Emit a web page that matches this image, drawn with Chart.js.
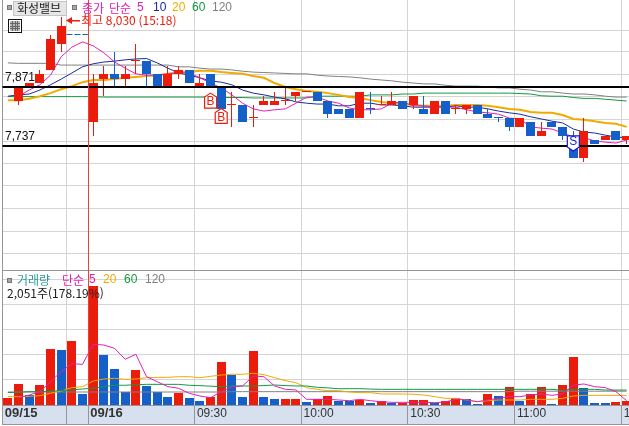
<!DOCTYPE html>
<html lang="ko">
<head>
<meta charset="utf-8">
<title>화성밸브</title>
<script src="https://cdn.jsdelivr.net/npm/chart.js@4"></script>
<style>
html,body{margin:0;padding:0;background:#fff;width:629px;height:426px;overflow:hidden}
canvas{position:absolute;left:0}
#priceCanvas{top:0}
#volumeCanvas{top:270px}
</style>
</head>
<body>
<canvas id="priceCanvas" width="640" height="270"></canvas>
<canvas id="volumeCanvas" width="640" height="156"></canvas>
<script>
// Three-minute candles, one slot per bar. null means no trade printed in that slot.
const open  = [null,7840,7870,7880,7910,7970,null,null,7790,7890,7900,7890,7930,7930,7900,7870,7900,7910,7870,7900,7870,7830,7830,7800,7830,7830,7840,7850,7860,7860,7840,7820,7820,7800,7820,7830,7830,7840,7830,7820,7810,7840,7820,7820,7830,7810,7800,7800,7780,7790,7760,7790,7780,7740,7710,7750,7750,7770,7750];
const close = [null,7870,7880,7900,7980,8010,null,null,7880,7900,7890,7900,7930,7900,7870,7900,7910,7880,7880,7870,7820,7830,7790,7800,7840,7840,7840,7860,7860,7840,7810,7810,7800,7860,7820,7830,7840,7820,7850,7810,7840,7810,7820,7830,7810,7800,7800,7780,7800,7760,7770,7780,7760,7710,7770,7740,7760,7750,7760];
const high  = [null,7870,7880,7910,7990,8030,null,null,7900,7920,7950,7920,7970,7930,7900,7920,7920,7910,7900,7900,7870,7860,7830,7830,7850,7860,7870,7860,7860,7860,7840,7820,7820,7860,7860,7850,7860,7840,7850,7850,7840,7840,7830,7830,7830,7820,7800,7800,7800,7790,7790,7790,7780,7770,7800,7750,7760,7770,7760];
const low   = [null,7830,7870,7880,7910,7950,null,null,7760,7850,7870,7870,7900,7870,7870,7870,7890,7880,7870,7870,7820,7780,7790,7780,7830,7830,7830,7840,7860,7840,7800,7810,7800,7800,7810,7830,7830,7820,7820,7810,7810,7810,7810,7810,7810,7800,7790,7770,7780,7760,7760,7780,7750,7710,7700,7740,7750,7750,7740];
const candleSide = ['','R','R','R','R','R','','','R','R','B','R','R','B','B','R','R','B','R','B','B','R','B','R','R','R','R','R','R','B','B','B','B','R','B','R','R','B','R','B','R','B','R','R','B','B','B','B','R','B','R','B','B','B','R','B','R','B','R'];

// Price moving averages
const priceMa5   = [null,7850,7864,7876,7898,7940,7962,7974,7965,7949,7928,7914,7901,7898,7898,7901,7903,7903,7892,7880,7869,7853,7834,7821,7816,7819,7821,7834,7848,7848,7839,7834,7823,7819,7819,7821,7834,7837,7828,7828,7825,7825,7825,7819,7814,7812,7809,7800,7798,7780,7777,7775,7766,7757,7755,7748,7745,7743,7750];
const priceMa10  = [7850,7853,7855,7864,7876,7889,7903,7917,7924,7928,7930,7933,7935,7936,7926,7914,7903,7898,7892,7885,7882,7876,7864,7857,7853,7848,7844,7837,7834,7832,7832,7828,7828,7834,7834,7830,7830,7828,7825,7825,7825,7825,7828,7825,7825,7821,7816,7812,7809,7803,7798,7793,7789,7775,7768,7766,7761,7757,7755];
const priceMa20  = [7841,7841,7844,7850,7857,7866,7873,7882,7887,7887,7889,7892,7894,7896,7898,7901,7905,7905,7908,7908,7905,7903,7901,7896,7892,7880,7871,7866,7862,7860,7857,7853,7848,7846,7841,7837,7834,7832,7830,7828,7828,7828,7830,7830,7830,7828,7825,7821,7819,7814,7812,7812,7807,7798,7796,7793,7789,7787,7780];
const priceMa60  = [7849,7849,7849,7849,7849,7849,7849,7849,7849,7848,7848,7848,7848,7848,7848,7848,7848,7848,7848,7848,7847,7847,7847,7846,7846,7846,7846,7846,7846,7850,7850,7850,7850,7850,7853,7853,7853,7855,7855,7857,7857,7857,7857,7857,7857,7857,7857,7857,7856,7855,7851,7850,7850,7847,7845,7845,7843,7841,7839];
const priceMa120 = [7926,7925,7925,7925,7925,7921,7921,7921,7921,7921,7921,7921,7921,7921,7921,7921,7917,7917,7914,7912,7912,7910,7907,7905,7904,7903,7902,7901,7901,7898,7896,7895,7894,7892,7889,7887,7885,7882,7880,7878,7878,7875,7873,7873,7873,7871,7869,7869,7866,7864,7860,7860,7857,7855,7855,7853,7850,7848,7848];

// Horizontal support levels, the opening dash and the price grid
const levelValues = [7871,7737];
const levelLabels = ['7,871','7,737'];
const dashPrice  = [null,null,null,null,null,null,7991,7991];
const priceGrid  = [8001,7951,7900,7849,7797,7747,7696,7645,7594,7542,7491];

// Buy and sell flags
const buyIndex  = [19,20];
const buyPrice  = [7857,7822];
const sellIndex = [53];
const sellPrice = [7725];

// Volume, in shares
const volume = [115,362,172,345,965,948,1103,190,2051,862,620,230,603,328,230,138,207,120,69,138,741,517,138,931,138,103,103,103,52,103,155,69,69,86,34,69,34,34,86,86,34,69,120,103,17,190,155,310,69,190,310,17,345,827,293,34,34,52,69];
const volumeSide = ['R','R','B','R','R','B','R','B','R','B','B','B','R','B','B','B','R','B','B','R','R','B','B','R','B','B','R','R','B','R','R','B','B','R','B','R','B','R','R','R','B','R','R','B','B','R','B','R','B','R','R','B','R','R','B','B','B','R','R'];
const volumeMa5  = [null,126,172,230,402,575,712,701,1046,1034,977,788,874,488,402,316,288,202,155,126,230,316,328,500,488,328,271,259,98,98,98,86,74,98,74,57,46,46,46,46,40,52,98,86,57,86,115,144,144,172,190,167,190,345,362,316,299,230,74];
const volumeMa20 = [144,144,150,161,202,241,299,316,414,448,460,443,448,471,477,477,488,488,471,494,517,529,529,546,523,471,420,385,299,270,247,247,224,213,213,190,190,190,184,172,144,115,115,86,57,75,86,86,86,98,98,98,115,155,167,167,166,166,166];
const volumeMa60 = [213,222,230,230,238,247,260,276,290,316,340,340,350,356,356,356,356,340,333,325,316,328,328,328,335,345,335,328,328,305,295,281,281,281,275,270,270,270,270,270,270,270,270,270,270,270,270,270,270,270,270,270,253,270,270,270,258,258,258];
const volumeMa120= [224,224,224,224,224,224,224,224,224,224,224,224,224,224,224,224,224,224,224,224,224,230,230,230,230,230,230,230,230,230,230,230,230,230,230,230,230,230,230,230,230,230,230,230,230,230,230,230,238,238,238,238,238,238,238,238,238,238,238];
const volumeGrid = [2155,1736,1305,874,443];
const volumeCaption = '2,051주(178.19%)';

// Time axis
const tickSlots  = [0,8,18,28,38,48,58];
const tickLabels = ['09/15','09/16','09:30','10:00','10:30','11:00','11:30'];
const dividerSlots = [6,18,28,38,48,58];
const cursorSlot = 8;
const categories = open.map((_, i) => String(i));

const RED='#ec1c0c', BLUE='#1460c8', NAVY='#1a2c9c', MAGENTA='#e020b4', ORANGE='#f0aa00', GREEN='#109a40', GRAY='#808080';
const GRID='#d4d4d4', CURSOR='#e8403a', EDGE='#969696';
const UI_FONT='"Noto Sans CJK KR","Noto Sans",sans-serif';
const sideColor = s => s==='R' ? RED : BLUE;

// Snaps bars to whole pixels so the candles stay hard edged
const snapBars = {
  id:'snapBars',
  afterDatasetsUpdate(chart){
    chart.data.datasets.forEach((d,i)=>{
      if(d.type!=='bar') return;
      chart.getDatasetMeta(i).data.forEach(el=>{
        if(el.skip||el.y==null||isNaN(el.y)) return;
        el.x=Math.floor(el.x)+0.5;
        el.y=Math.round(el.y);
        el.base=Math.round(el.base);
        if(el.y===el.base) el.base=el.y+1;
      });
    });
  }
};

function slotLeft(chart,i){
  const x=chart.scales.x;
  return x.getPixelForValue(i)-(x.getPixelForValue(1)-x.getPixelForValue(0))/2;
}
function drawCursor(chart,bottom){
  const c=chart.ctx, px=Math.ceil(slotLeft(chart,cursorSlot));
  c.save(); c.fillStyle=CURSOR; c.fillRect(px,0,1,bottom); c.restore();
}
function text(c,str,x,y,color,font){
  c.fillStyle=color; c.font=font; c.textAlign='left'; c.textBaseline='middle';
  c.fillText(str,x,y);
}
function flag(c,cx,tip,dir,color,letter){
  // Five sided flag: dir=1 keeps the tip on top, dir=-1 keeps it below
  const h=15, w=6, s=4;
  c.save();
  c.fillStyle='#fff'; c.strokeStyle=color; c.lineWidth=1.2; c.lineJoin='miter';
  c.beginPath();
  c.moveTo(cx,tip);
  c.lineTo(cx+w,tip+dir*s);
  c.lineTo(cx+w,tip+dir*h);
  c.lineTo(cx-w,tip+dir*h);
  c.lineTo(cx-w,tip+dir*s);
  c.closePath(); c.fill(); c.stroke();
  c.fillStyle=color; c.font='12px "Liberation Sans",sans-serif';
  c.textAlign='center'; c.textBaseline='middle';
  c.fillText(letter,cx,tip+dir*9);
  c.restore();
}

const priceOverlay = {
  id:'priceOverlay',
  // Levels sit above the candles and run the full panel width
  afterDatasetsDraw(chart){
    const c=chart.ctx, y=chart.scales.y, a=chart.chartArea;
    c.save(); c.fillStyle='#000';
    levelValues.forEach(v=>c.fillRect(a.left,Math.round(y.getPixelForValue(v))-1,640,2));
    c.restore();
  },
  afterDraw(chart){
    const c=chart.ctx, x=chart.scales.x, y=chart.scales.y;
    drawCursor(chart,chart.chartArea.bottom);

    // Dash across the slots without trades
    const dashSlots=dashPrice.map((v,i)=>v==null?-1:i).filter(i=>i>=0);
    const dashY=Math.round(y.getPixelForValue(dashPrice[dashSlots[0]]))+0.5;
    c.save(); c.strokeStyle=BLUE; c.lineWidth=1; c.setLineDash([6,2]);
    c.beginPath();
    c.moveTo(slotLeft(chart,dashSlots[0]),dashY);
    c.lineTo(slotLeft(chart,dashSlots[dashSlots.length-1]+1),dashY);
    c.stroke(); c.restore();

    // Level captions
    levelValues.forEach((v,k)=>text(c,levelLabels[k],5,y.getPixelForValue(v)-9,'#111','12px "Liberation Sans",sans-serif'));

    // Flags
    buyIndex.forEach((i,k)=>flag(c,x.getPixelForValue(i),y.getPixelForValue(buyPrice[k]),1,RED,'B'));
    sellIndex.forEach((i,k)=>flag(c,x.getPixelForValue(i),y.getPixelForValue(sellPrice[k]),-1,'#1414e0','S'));

    // Header row
    c.save();
    c.fillStyle='#a8a8a8'; c.strokeStyle='#777';
    [7,72].forEach(px=>{c.fillRect(px+0.5,5.5,4,4); c.strokeRect(px+0.5,5.5,4,4);});
    c.fillStyle='#e6e6e6'; c.fillRect(13,1,54,15);
    c.strokeStyle='#c4c4c4'; c.strokeRect(13.5,1.5,53,14);
    text(c,'화성밸브',17,8,'#222','12px '+UI_FONT);
    const f='12px '+UI_FONT, g='12px "Liberation Sans",sans-serif';
    text(c,'종가',82,8,MAGENTA,f);
    text(c,'단순',109,8,MAGENTA,f);
    text(c,'5',137,8,MAGENTA,g);
    text(c,'10',153,8,NAVY,g);
    text(c,'20',172,8,ORANGE,g);
    text(c,'60',192,8,GREEN,g);
    text(c,'120',212,8,GRAY,g);

    // Session high callout
    c.fillStyle=RED;
    c.beginPath(); c.moveTo(66,20.5); c.lineTo(72,17); c.lineTo(72,24); c.closePath(); c.fill();
    c.fillRect(71,20,9,1.5);
    text(c,'최고 8,030 (15:18)',81,20,RED,'12px '+UI_FONT);

    // Chart type button
    c.fillStyle='#fff'; c.fillRect(8,19,14,14);
    c.strokeStyle='#111'; c.strokeRect(8.5,19.5,13,13);
    c.fillStyle='#bbb'; c.fillRect(10,21,10,10);
    c.strokeStyle='#666'; c.beginPath();
    [12.5,15.5,17.5].forEach(v=>{c.moveTo(v,21);c.lineTo(v,31);});
    [23.5,26.5,28.5].forEach(v=>{c.moveTo(10,v);c.lineTo(20,v);});
    c.stroke();
    c.restore();
  }
};

const volumeOverlay = {
  id:'volumeOverlay',
  beforeDraw(chart){
    const c=chart.ctx, a=chart.chartArea;
    c.save();
    c.fillStyle='#d6e0ee'; c.fillRect(2,a.bottom,640,19);
    c.fillStyle=EDGE;
    c.fillRect(2,0,640,1);
    c.fillRect(2,a.bottom,640,1);
    c.fillRect(2,a.bottom+19,640,1);
    c.fillRect(2,a.bottom,1,19);
    c.restore();
  },
  afterDraw(chart){
    const c=chart.ctx, a=chart.chartArea;
    drawCursor(chart,a.bottom);
    c.save();
    c.fillStyle=EDGE; c.fillRect(Math.ceil(slotLeft(chart,cursorSlot)),a.bottom,1,19);
    c.fillStyle='#a8a8a8'; c.strokeStyle='#777';
    c.fillRect(7.5,8.5,4,4); c.strokeRect(7.5,8.5,4,4);
    const f='12px '+UI_FONT, g='12px "Liberation Sans",sans-serif';
    text(c,'거래량',17,10,'#2a9a9a',f);
    text(c,'단순',62,10,MAGENTA,f);
    text(c,'5',89,10,MAGENTA,g);
    text(c,'20',103,10,ORANGE,g);
    text(c,'60',124,10,GREEN,g);
    text(c,'120',145,10,GRAY,g);
    text(c,volumeCaption,7,23,'#222',f);
    c.restore();
  }
};

function lineSet(label,data,color,width,order){
  return {type:'line',label,data,borderColor:color,backgroundColor:color,borderWidth:width,
    pointRadius:0,pointHoverRadius:0,tension:0,spanGaps:false,order};
}
function xAxis(height,withLabels){
  const isDivider=ctx=>dividerSlots.includes(ctx.index);
  return {
    type:'category',
    afterFit(s){s.height=height;},
    border:{display:false},
    grid:{
      offset:true,
      drawTicks:withLabels,
      tickLength:withLabels?19:0,
      tickWidth:1,
      lineWidth:ctx=>isDivider(ctx)?1:0,
      color:ctx=>isDivider(ctx)?GRID:'rgba(0,0,0,0)',
      tickColor:ctx=>isDivider(ctx)?EDGE:'rgba(0,0,0,0)'
    },
    ticks:{
      display:withLabels,
      autoSkip:false,maxRotation:0,minRotation:0,
      align:'start',labelOffset:-3,padding:-18,
      color:'#333',
      font:ctx=>{
        const k=tickSlots.indexOf(ctx.index);
        return k>=0&&k<2?{family:'"Liberation Sans",sans-serif',size:13,weight:'bold'}
                        :{family:'"Liberation Sans",sans-serif',size:12};
      },
      callback:(v,i)=>{const k=tickSlots.indexOf(i);return k>=0?tickLabels[k]:'';}
    }
  };
}
function yAxis(min,max,values){
  return {
    type:'linear',min,max,
    afterBuildTicks(s){s.ticks=values.map(value=>({value}));},
    border:{display:true,color:EDGE,width:1},
    grid:{color:GRID,lineWidth:1,drawTicks:false},
    ticks:{display:false}
  };
}

const baseOptions = {
  responsive:false,animation:false,
  events:[],
  plugins:{legend:{display:false},tooltip:{enabled:false}},
  datasets:{bar:{grouped:false,inflateAmount:0,borderWidth:0,categoryPercentage:1,barPercentage:1}}
};

new Chart(document.getElementById('priceCanvas'),{
  data:{
    labels:categories,
    datasets:[
      {type:'bar',label:'봉',data:open.map((v,i)=>v==null?null:[v,close[i]]),
       backgroundColor:candleSide.map(sideColor),barThickness:9,minBarLength:1,order:1},
      {type:'bar',label:'꼬리',data:low.map((v,i)=>v==null?null:[v,high[i]]),
       backgroundColor:candleSide.map(sideColor),barThickness:1,minBarLength:1,order:2},
      lineSet('5',priceMa5,MAGENTA,1,3),
      lineSet('10',priceMa10,NAVY,1,4),
      lineSet('20',priceMa20,ORANGE,2,5),
      lineSet('60',priceMa60,GREEN,1,6),
      lineSet('120',priceMa120,GRAY,1,7)
    ]
  },
  options:{...baseOptions,
    layout:{padding:{left:2.5,right:8,top:0,bottom:0}},
    scales:{x:xAxis(0,false),y:yAxis(7453.2,8069.6,priceGrid)}
  },
  plugins:[snapBars,priceOverlay]
});

new Chart(document.getElementById('volumeCanvas'),{
  data:{
    labels:categories,
    datasets:[
      lineSet('5',volumeMa5,MAGENTA,1,1),
      lineSet('60',volumeMa60,GREEN,1,2),
      lineSet('20',volumeMa20,ORANGE,1,3),
      lineSet('120',volumeMa120,GRAY,1,4),
      {type:'bar',label:'거래량',data:volume,backgroundColor:volumeSide.map(sideColor),barThickness:9,order:5}
    ]
  },
  options:{...baseOptions,
    layout:{padding:{left:2.5,right:8,top:1,bottom:0}},
    scales:{x:xAxis(21,true),y:yAxis(0,2310,volumeGrid)}
  },
  plugins:[snapBars,volumeOverlay]
});
</script>
</body>
</html>
